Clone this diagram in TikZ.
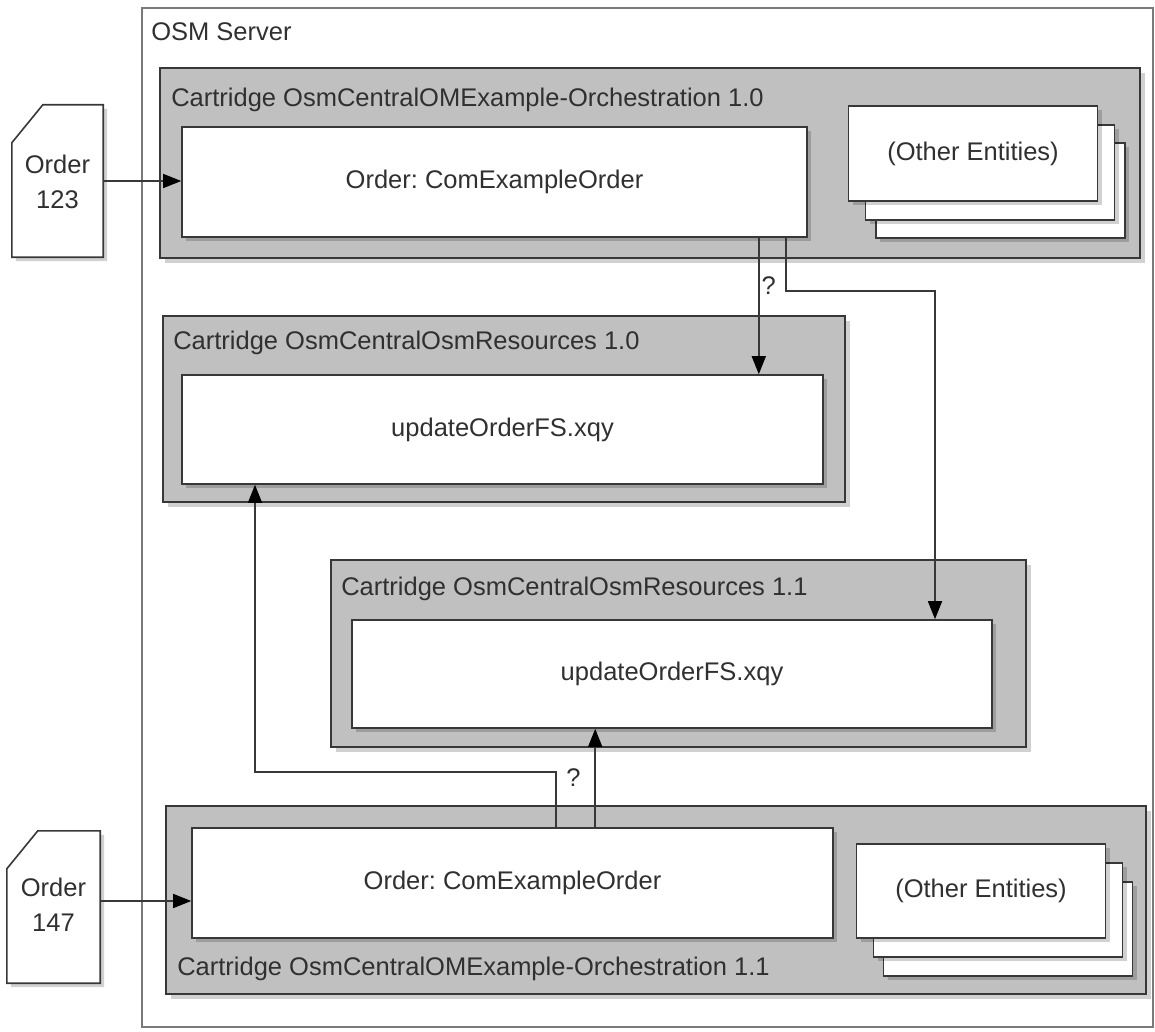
\documentclass[tikz,border=0pt]{standalone}
\usepackage{fontspec}
\setmainfont{Liberation Sans}
\usetikzlibrary{arrows.meta,shadows}
\definecolor{osmFill}{HTML}{C0C0C0}
\definecolor{osmLine}{HTML}{383838}
\definecolor{osmFrame}{HTML}{7A7A7A}
\definecolor{osmText}{HTML}{303030}
\frenchspacing

\begin{document}
\begin{tikzpicture}[
  x=1pt, y=-1pt,
  every node/.style={font=\fontsize{25.5}{35}\selectfont, text=osmText},
  frame/.style={draw=osmFrame, line width=1.8pt, inner sep=0pt},
  cartridge/.style={
    draw=osmLine, fill=osmFill, line width=1.8pt, inner sep=0pt,
    drop shadow={shadow xshift=5pt, shadow yshift=-5pt, fill=black, opacity=.18},
  },
  entity/.style={
    draw=osmLine, fill=white, line width=1.6pt, inner sep=0pt,
    drop shadow={shadow xshift=4pt, shadow yshift=-4pt, fill=black, opacity=.18},
  },
  docbox/.style={inner sep=0pt, align=center},
  docline/.style={
    draw=osmLine, fill=white, line width=1.6pt,
    drop shadow={shadow xshift=4pt, shadow yshift=-4pt, fill=black, opacity=.18},
  },
  lbl/.style={inner sep=0pt, anchor=base west},
  arr/.style={-{Triangle[length=18pt, width=14pt, color=black]}, line width=1.5pt, draw=osmLine},
]
\useasboundingbox (0,0) rectangle (1155,1032);

% Server frame
\node[frame, minimum width=1011pt, minimum height=1019pt] (server) at (647.5,517.5) {};
\node[lbl] (serverlbl) at ([xshift=10pt, yshift=-33pt]server.north west) {OSM Server};

% Cartridge OsmCentralOMExample-Orchestration 1.0
\node[cartridge, minimum width=980pt, minimum height=190pt] (cartA) at (650,163) {};
\node[lbl] (cartAlbl) at ([xshift=12pt, yshift=-39pt]cartA.north west)
  {Cartridge OsmCentralOMExample-Orchestration 1.0};
\node[entity, minimum width=625pt, minimum height=110pt] (ordA) at (494.5,182)
  {Order: ComExampleOrder};
\node[entity, minimum width=249pt, minimum height=95pt] (othA3) at (1000.5,190.5) {};
\node[entity, minimum width=249pt, minimum height=95pt] (othA2) at (990,172.5) {};
\node[entity, minimum width=249pt, minimum height=95pt] (othA) at (973,153.5)
  {(Other Entities)};

% Cartridge OsmCentralOsmResources 1.0
\node[cartridge, minimum width=682pt, minimum height=186pt] (cartB) at (504,409) {};
\node[lbl] (cartBlbl) at ([xshift=11pt, yshift=-34pt]cartB.north west)
  {Cartridge OsmCentralOsmResources 1.0};
\node[entity, minimum width=641pt, minimum height=109pt] (xqyB) at (502.5,429.5)
  {updateOrderFS.xqy};

% Cartridge OsmCentralOsmResources 1.1
\node[cartridge, minimum width=695pt, minimum height=187pt] (cartC) at (678.5,653.5) {};
\node[lbl] (cartClbl) at ([xshift=11pt, yshift=-36pt]cartC.north west)
  {Cartridge OsmCentralOsmResources 1.1};
\node[entity, minimum width=640pt, minimum height=108pt] (xqyC) at (672,674)
  {updateOrderFS.xqy};

% Cartridge OsmCentralOMExample-Orchestration 1.1
\node[cartridge, minimum width=980pt, minimum height=188pt] (cartD) at (656,900) {};
\node[lbl] (cartDlbl) at ([xshift=12pt, yshift=19pt]cartD.south west)
  {Cartridge OsmCentralOMExample-Orchestration 1.1};
\node[entity, minimum width=641pt, minimum height=110pt] (ordD) at (512.5,883)
  {Order: ComExampleOrder};
\node[entity, minimum width=249pt, minimum height=94pt] (othD3) at (1008,929) {};
\node[entity, minimum width=249pt, minimum height=94pt] (othD2) at (998,910) {};
\node[entity, minimum width=249pt, minimum height=94pt] (othD) at (981,891)
  {(Other Entities)};

% Incoming orders (page with a cut corner)
\node[docbox, minimum width=91pt, minimum height=152pt] (docA) at (57.5,181) {};
\draw[docline] (docA.south west) -- ([yshift=-38pt]docA.north west)
  -- ([xshift=31pt]docA.north west) -- (docA.north east) -- (docA.south east) -- cycle;
\node[docbox] (docAtxt) at ([yshift=-1pt]docA.center) {Order\\123};
\node[docbox, minimum width=93pt, minimum height=152pt] (docB) at (53.5,907) {};
\draw[docline] (docB.south west) -- ([yshift=-38pt]docB.north west)
  -- ([xshift=31pt]docB.north west) -- (docB.north east) -- (docB.south east) -- cycle;
\node[docbox] (docBtxt) at ([yshift=2pt]docB.center) {Order\\147};

% Bend points
\coordinate (bendA) at (935,291);
\coordinate (bendD) at (255,772);

% Arrows
\draw[arr] (docA.east) -- (docA.east -| ordA.west);
\draw[arr] ([yshift=6pt]docB.east) -- ([yshift=6pt]docB.east -| ordD.west);
\draw[arr] ([xshift=-49pt]ordA.south east) -- ([xshift=-49pt]ordA.south east |- xqyB.north)
  node[pos=.35, right, inner sep=2pt] (qA) {?};
\draw[arr] ([xshift=-22pt]ordA.south east) |- (bendA) -- (bendA |- xqyC.north);
\draw[arr] ([xshift=365pt]ordD.north west) |- (bendD) -- (bendD |- xqyB.south);
\draw[arr] ([xshift=404pt]ordD.north west) -- ([xshift=404pt]ordD.north west |- xqyC.south)
  node[midway, left, inner sep=0pt, xshift=-14pt] (qD) {?};

\end{tikzpicture}
\end{document}
